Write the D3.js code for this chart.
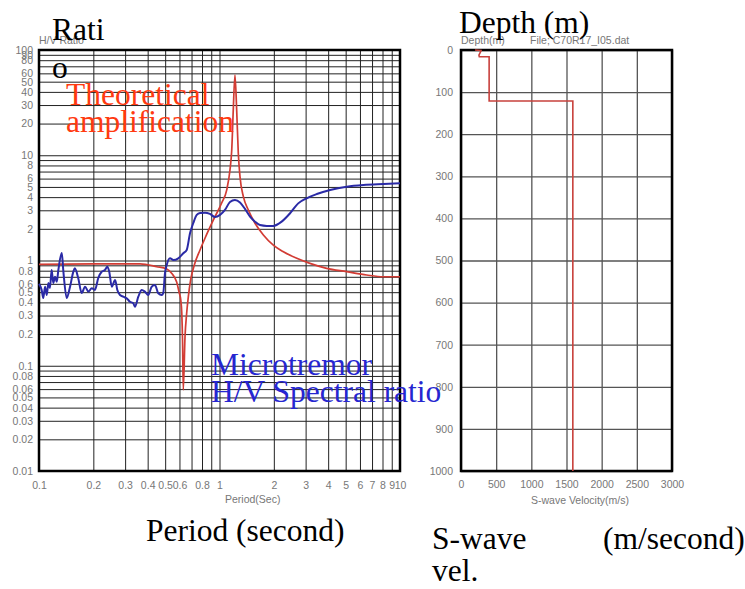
<!DOCTYPE html>
<html>
<head>
<meta charset="utf-8">
<script src="https://cdn.jsdelivr.net/npm/d3@7"></script>
<style>
body { margin: 0; background: #fff; }
svg { display: block; }
.tick text { fill: #777; font: 10.5px "Liberation Sans", Arial, sans-serif; }
.small { fill: #777; font: 10.5px "Liberation Sans", Arial, sans-serif; }
.big { font-family: "Liberation Serif", "Times New Roman", serif; font-size: 31.5px; }
</style>
</head>
<body>
<svg width="745" height="589"></svg>
<script>
// H/V spectral ratio (period in sec)
let bluePeriod = [0.1, 0.1035, 0.1056, 0.108, 0.1104, 0.1127, 0.115, 0.1175, 0.12, 0.1227, 0.1254,
  0.128, 0.1337, 0.1365, 0.1424, 0.1486, 0.155, 0.158, 0.165, 0.1724, 0.18,
  0.1877, 0.196, 0.204, 0.213, 0.2225, 0.232, 0.239, 0.245, 0.253, 0.264,
  0.2716, 0.281, 0.293, 0.306, 0.319, 0.333, 0.34, 0.355, 0.371, 0.386,
  0.403, 0.421, 0.439, 0.458, 0.478, 0.488, 0.499, 0.51, 0.532, 0.555,
  0.591, 0.63, 0.658, 0.687, 0.716, 0.748, 0.78, 0.832, 0.885, 0.944,
  1.007, 1.072, 1.143, 1.218, 1.299, 1.384, 1.476, 1.573, 1.676, 1.827,
  1.987, 2.21, 2.46, 2.73, 3.04, 3.46, 4.1, 5.07, 6.27, 8.09, 10];
let blueRatio = [0.6, 0.525, 0.44, 0.564, 0.47, 0.611, 0.548, 0.812, 0.611, 0.701, 0.629,
  0.812, 1.178, 0.783, 0.44, 0.564, 0.783, 0.843, 0.678, 0.491, 0.564,
  0.506, 0.545, 0.525, 0.682, 0.783, 0.812, 0.873, 0.783, 0.564, 0.653,
  0.525, 0.47, 0.453, 0.437, 0.406, 0.392, 0.364, 0.453, 0.525, 0.506,
  0.47, 0.564, 0.585, 0.488, 0.47, 0.491, 0.761, 0.906, 1.049, 1.011,
  1.049, 1.17, 1.259, 1.825, 2.27, 2.71, 2.83, 2.85, 2.77, 2.59,
  2.71, 3.02, 3.6, 3.76, 3.56, 3.09, 2.61, 2.34, 2.17, 2.13,
  2.13, 2.34, 2.81, 3.49, 3.9, 4.28, 4.68, 5.03, 5.22, 5.33, 5.41];

// theoretical amplification
let redPeriod = [0.1, 0.2, 0.363, 0.449, 0.51, 0.543, 0.579, 0.597, 0.61, 0.618,
  0.624, 0.63, 0.644, 0.658, 0.672, 0.692, 0.731, 0.78, 0.832, 0.925,
  1.028, 1.096, 1.143, 1.169, 1.192, 1.218, 1.245, 1.271, 1.299, 1.356,
  1.445, 1.573, 1.75, 1.987, 2.26, 2.68, 3.17, 3.92, 5.07, 6.54, 8.09, 10];
let redRatio = [0.92, 0.93, 0.927, 0.873, 0.83, 0.755, 0.625, 0.502, 0.422, 0.317,
  0.176, 0.059, 0.188, 0.317, 0.453, 0.653, 0.947, 1.259, 1.636, 2.43,
  3.52, 4.67, 7.24, 11.2, 26.9, 57.9, 26.9, 10.5, 6.25, 4.04,
  3.02, 2.26, 1.75, 1.4, 1.21, 1.049, 0.94, 0.843, 0.783, 0.728, 0.701, 0.701];

// velocity profile
let profDepth = [0, 1, 2, 12, 16, 16, 121, 121, 1000];
let profVel = [200, 285, 285, 255, 260, 400, 400, 1590, 1590];

// grid / tick values
let periodGrid = [0.1, 0.2, 0.3, 0.4, 0.5, 0.6, 0.7, 0.8, 0.9, 1, 2, 3, 4, 5, 6, 7, 8, 9, 10];
let periodLabels = [0.1, 0.2, 0.3, 0.4, 0.5, 0.6, 0.8, 1, 2, 3, 4, 5, 6, 7, 8, 9, 10];
let ratioGrid = [0.01, 0.02, 0.03, 0.04, 0.05, 0.06, 0.07, 0.08, 0.09,
  0.1, 0.2, 0.3, 0.4, 0.5, 0.6, 0.7, 0.8, 0.9,
  1, 2, 3, 4, 5, 6, 7, 8, 9,
  10, 20, 30, 40, 50, 60, 70, 80, 90, 100];
let ratioLabels = [0.01, 0.02, 0.03, 0.04, 0.05, 0.06, 0.08, 0.1, 0.2, 0.3, 0.4, 0.5, 0.6, 0.8,
  1, 2, 3, 4, 5, 6, 8, 10, 20, 30, 40, 50, 60, 80, 90, 100];
let velTicks = [0, 500, 1000, 1500, 2000, 2500, 3000];
let depthTicks = [0, 100, 200, 300, 400, 500, 600, 700, 800, 900, 1000];

let svg = d3.select("svg");
let fmt = d3.format("~g");
let hasLabel = function(list, d) { return list.some(function(v) { return Math.abs(v - d) < 1e-9; }); };

// ---------- left chart ----------
let L = {left: 39, right: 400, top: 50, bottom: 471};
let x = d3.scaleLog().domain([0.1, 10]).range([L.left, L.right]);
let y = d3.scaleLog().domain([0.01, 100]).range([L.bottom, L.top]);

let gx = svg.append("g")
    .attr("transform", "translate(0," + L.bottom + ")")
    .call(d3.axisBottom(x).tickValues(periodGrid).tickSize(-(L.bottom - L.top)).tickPadding(11)
      .tickFormat(function(d) { return hasLabel(periodLabels, d) ? fmt(d) : ""; }));
let gy = svg.append("g")
    .attr("transform", "translate(" + L.left + ",0)")
    .call(d3.axisLeft(y).tickValues(ratioGrid).tickSize(-(L.right - L.left)).tickPadding(6)
      .tickFormat(function(d) { return hasLabel(ratioLabels, d) ? fmt(d) : ""; }));
[gx, gy].forEach(function(g) {
  g.select(".domain").remove();
  g.selectAll(".tick line").attr("stroke", "#222").attr("stroke-width", 1);
});

svg.append("rect")
    .attr("x", L.left).attr("y", L.top)
    .attr("width", L.right - L.left).attr("height", L.bottom - L.top)
    .attr("fill", "none").attr("stroke", "#000").attr("stroke-width", 2.5);

let line = d3.line()
    .x(function(d) { return x(d[0]); })
    .y(function(d) { return y(d[1]); })
    .curve(d3.curveMonotoneX);

svg.append("path")
    .datum(d3.zip(redPeriod, redRatio))
    .attr("fill", "none").attr("stroke", "#d23c34").attr("stroke-width", 1.7)
    .attr("d", line);

svg.append("path")
    .datum(d3.zip(bluePeriod, blueRatio))
    .attr("fill", "none").attr("stroke", "#2a2aa6").attr("stroke-width", 2)
    .attr("d", line);

svg.append("text").attr("class", "small").attr("x", 39).attr("y", 44).text("H/V Ratio");
svg.append("text").attr("class", "small").attr("x", 225).attr("y", 503).text("Period(Sec)");

// ---------- right chart ----------
let R = {left: 461, right: 672, top: 50, bottom: 471};
let xv = d3.scaleLinear().domain([0, 3000]).range([R.left, R.right]);
let yd = d3.scaleLinear().domain([0, 1000]).range([R.top, R.bottom]);

let gxv = svg.append("g")
    .attr("transform", "translate(0," + R.bottom + ")")
    .call(d3.axisBottom(xv).tickValues(velTicks).tickSize(-(R.bottom - R.top)).tickPadding(10).tickFormat(d3.format("d")));
let gyd = svg.append("g")
    .attr("transform", "translate(" + R.left + ",0)")
    .call(d3.axisLeft(yd).tickValues(depthTicks).tickSize(-(R.right - R.left)).tickPadding(8).tickFormat(d3.format("d")));
[gxv, gyd].forEach(function(g) {
  g.select(".domain").remove();
  g.selectAll(".tick line").attr("stroke", "#555").attr("stroke-width", 1.3);
});

svg.append("rect")
    .attr("x", R.left).attr("y", R.top)
    .attr("width", R.right - R.left).attr("height", R.bottom - R.top)
    .attr("fill", "none").attr("stroke", "#000").attr("stroke-width", 2.5);

let prof = d3.line()
    .x(function(d) { return xv(d[0]); })
    .y(function(d) { return yd(d[1]); });

svg.append("path")
    .datum(d3.zip(profVel, profDepth))
    .attr("fill", "none").attr("stroke", "#c8413c").attr("stroke-width", 1.6)
    .attr("d", prof);

svg.append("text").attr("class", "small").attr("x", 461).attr("y", 44).text("Depth(m)");
svg.append("text").attr("class", "small").attr("x", 530).attr("y", 44).text("File;  C70R17_I05.dat");
svg.append("text").attr("class", "small").attr("x", 531).attr("y", 504).text("S-wave Velocity(m/s)");

// ---------- overlay annotations ----------
let big = [
  {t: "Rati", x: 52, y: 40, c: "#000"},
  {t: "o", x: 52, y: 78, c: "#000"},
  {t: "Theoretical", x: 66, y: 105, c: "#ff3a10"},
  {t: "amplification", x: 66, y: 132, c: "#ff3a10"},
  {t: "Microtremor", x: 211, y: 375, c: "#2626d0"},
  {t: "H/V Spectral ratio", x: 211, y: 402, c: "#2626d0"},
  {t: "Period (second)", x: 146, y: 541, c: "#000"},
  {t: "Depth (m)", x: 459, y: 33, c: "#000"},
  {t: "S-wave", x: 432, y: 549, c: "#000"},
  {t: "(m/second)", x: 603, y: 549, c: "#000"},
  {t: "vel.", x: 432, y: 581, c: "#000"}
];
svg.selectAll("text.big").data(big).enter().append("text")
    .attr("class", "big")
    .attr("x", function(d) { return d.x; })
    .attr("y", function(d) { return d.y; })
    .attr("fill", function(d) { return d.c; })
    .text(function(d) { return d.t; });
</script>
</body>
</html>
